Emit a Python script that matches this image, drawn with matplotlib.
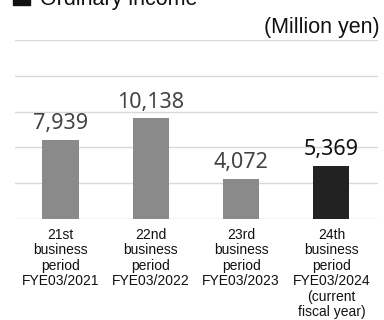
import matplotlib

matplotlib.use("Agg")
import matplotlib.pyplot as plt
from matplotlib.patches import Rectangle

periods = ["21st\nbusiness\nperiod\nFYE03/2021",
           "22nd\nbusiness\nperiod\nFYE03/2022",
           "23rd\nbusiness\nperiod\nFYE03/2023",
           "24th\nbusiness\nperiod\nFYE03/2024\n(current\nfiscal year)"]
income = [7939, 10138, 4072, 5369]
bar_colors = ["#8a8a8a", "#8a8a8a", "#8a8a8a", "#222222"]
grid_vals = [0, 3600, 7200, 10800, 14400, 18000]

W, H = 384, 320
fig = plt.figure(figsize=(W / 100, H / 100), dpi=100)
ax = fig.add_axes([15 / W, 1 - 219 / H, 363 / W, 179 / H])

for y in grid_vals:
    ax.axhline(y, color="#d9d9d9", lw=1, zorder=0)

x = range(len(income))
ax.bar(x, income, width=0.4, color=bar_colors, zorder=2)
for i, v in enumerate(income):
    last = i == len(income) - 1
    ax.annotate(f"{v:,}", (i, v), xytext=(0, 4), textcoords="offset points",
                ha="center", va="bottom", fontsize=15.5, family="Noto Sans",
                color="#111111" if last else "#444444",
                fontweight="medium" if last else "normal")
    ax.text(i, -900, periods[i], ha="center", va="top", fontsize=10,
            family="Liberation Sans", linespacing=1.13, color="#111111")

ax.set_xlim(-0.504, 3.516)
ax.set_ylim(0, 18000)
ax.axis("off")

# title marker square, partly above the top edge like the source
fig.patches.append(Rectangle((13 / W, 1 - 5 / H), 17 / W, 17 / H,
                             transform=fig.transFigure, color="#111111"))
fig.text(40 / W, 1 - 5 / H, "Ordinary income", ha="left", va="baseline",
         fontsize=15.5, family="Liberation Sans", color="#111111")
fig.text(380 / W, 1 - 33 / H, "(Million yen)", ha="right", va="baseline",
         fontsize=15.5, family="Liberation Sans", color="#111111")

fig.savefig("out.png", dpi=100)
